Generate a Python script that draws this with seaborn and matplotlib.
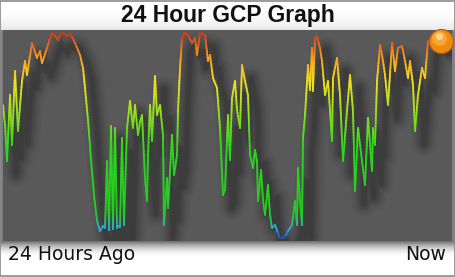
import numpy as np
import pandas as pd
import matplotlib
matplotlib.use("Agg")
import matplotlib.pyplot as plt
import matplotlib.transforms as mtransforms
from matplotlib.collections import LineCollection
from matplotlib.colors import LinearSegmentedColormap
import seaborn as sns

# ---- data (time axis in arbitrary units across 24 h, GCP value 0..210) ----
time_pts = [3, 5, 7, 10, 12, 15, 18, 22, 25, 27, 32, 37, 40, 42, 47, 50, 52, 55, 58, 60,
            63, 67, 70, 72, 75, 78, 80, 83, 85, 88, 91, 94, 97, 100, 103, 105, 107, 109, 111, 113,
            115, 117, 119, 120, 122, 124, 127, 130, 133, 135, 138, 140, 142, 145, 147, 148, 150, 152, 155, 157,
            160, 163, 164, 167, 168, 172, 174, 177, 178, 180, 182, 185, 188, 192, 195, 197, 200, 203, 205, 208,
            210, 213, 217, 220, 223, 225, 228, 230, 232, 235, 237, 240, 242, 245, 248, 250, 253, 255, 257, 258,
            261, 263, 265, 268, 270, 272, 275, 278, 280, 283, 286, 288, 290, 292, 295, 297, 298, 300, 302, 303,
            305, 308, 310, 312, 313, 315, 317, 320, 322, 325, 328, 330, 332, 333, 337, 340, 343, 347, 350, 353,
            355, 358, 362, 365, 368, 372, 373, 375, 377, 380, 383, 385, 388, 392, 395, 398, 402, 405, 408, 410,
            413, 415, 418, 422, 425, 428, 432, 436, 441]
pix_y = [105, 125, 161, 95, 145, 71, 131, 81, 61, 75, 43, 58, 51, 63, 48, 38, 33, 36, 40, 35,
         33, 36, 34, 37, 43, 50, 55, 68, 88, 120, 160, 195, 221, 231, 226, 228, 161, 230, 126, 229,
         128, 228, 226, 227, 138, 225, 128, 101, 128, 105, 135, 122, 115, 178, 201, 155, 105, 141, 76, 115,
         105, 135, 225, 178, 208, 135, 175, 155, 111, 68, 38, 33, 35, 43, 38, 55, 33, 34, 35, 61,
         55, 78, 88, 128, 195, 190, 115, 160, 98, 81, 110, 128, 65, 81, 95, 155, 168, 150, 161, 201,
         170, 200, 215, 185, 215, 228, 225, 233, 238, 238, 235, 231, 228, 225, 201, 225, 168, 200, 225, 138,
         115, 65, 90, 48, 91, 38, 36, 48, 61, 95, 81, 111, 141, 78, 58, 95, 161, 111, 75, 111,
         191, 128, 161, 185, 118, 171, 128, 145, 81, 45, 61, 75, 105, 43, 71, 48, 46, 61, 78, 61,
         85, 131, 95, 68, 78, 41, 38, 37, 41]
gcp_value = [241 - p for p in pix_y]

title = "24 Hour GCP Graph"
left_label = "24 Hours Ago"
right_label = "Now"

df = pd.DataFrame({"t": time_pts, "v": gcp_value})

W, H, DPI = 456, 277, 100
fig = plt.figure(figsize=(W / DPI, H / DPI), dpi=DPI)
fig.patch.set_facecolor("white")

# background axes for gradients
bg = fig.add_axes([0, 0, 1, 1])
bg.set_xlim(0, W)
bg.set_ylim(H, 0)
bg.axis("off")
grad = np.ones((H, 1, 3))
top_plot, bot_plot = 30, 241
for r in range(H):
    if r < top_plot:
        g = 1.0 - 0.10 * (r / top_plot) ** 3
    elif r >= bot_plot:
        d = (r - bot_plot) / 16.0
        g = 1.0 - 0.55 * max(0.0, 1 - d) ** 2
    else:
        g = 0.5
    grad[r, 0, :] = g
bg.imshow(grad, extent=[0, W, H, 0], aspect="auto", interpolation="bilinear", zorder=0)
bg.add_patch(plt.Rectangle((0.5, 0.5), W - 1.5, H - 1.5, fill=False, edgecolor="#8a8a8a", lw=1.2, zorder=5))

# main plot axes
ax = fig.add_axes([3 / W, (H - bot_plot) / H, (452 - 3) / W, (bot_plot - top_plot) / H])
ax.set_facecolor("#595959")
ax.set_xlim(3, 452)
ax.set_ylim(0, 211)
ax.set_xticks([])
ax.set_yticks([])
for s in ax.spines.values():
    s.set_visible(False)

# shadow: stacked blurred dark copies offset down-right
shadow_tr = mtransforms.offset_copy(ax.transData, fig=fig, x=9, y=-13, units="dots")
for lw, a in [(18, 0.035), (14, 0.045), (11, 0.055), (8, 0.065), (5, 0.07), (3, 0.07)]:
    sns.lineplot(data=df, x="t", y="v", ax=ax, color="black", lw=lw, alpha=a,
                 estimator=None, sort=False, transform=shadow_tr, solid_joinstyle="round",
                 solid_capstyle="round")

# gradient coloured line
cmap = LinearSegmentedColormap.from_list("gcp", [
    (0.0, "#1a2fd0"), (0.05, "#2aa8e8"), (0.13, "#22cc22"), (0.45, "#2fd61e"),
    (0.62, "#9be020"), (0.76, "#f2e020"), (0.87, "#f5a520"), (0.95, "#ea5a1e"), (1.0, "#d82a12")])
tt = np.asarray(time_pts, float)
vv = np.asarray(gcp_value, float)
segs, cols = [], []
for i in range(len(tt) - 1):
    n = max(1, int(abs(vv[i + 1] - vv[i]) / 3))
    fr = np.linspace(0, 1, n + 1)
    xs = tt[i] + (tt[i + 1] - tt[i]) * fr
    ys = vv[i] + (vv[i + 1] - vv[i]) * fr
    for k in range(n):
        segs.append([(xs[k], ys[k]), (xs[k + 1], ys[k + 1])])
        cols.append(0.5 * (ys[k] + ys[k + 1]) / 210.0)
lc = LineCollection(segs, cmap=cmap, linewidths=1.3, capstyle="round", joinstyle="round")
lc.set_array(np.array(cols))
lc.set_clim(0, 1)
ax.add_collection(lc)

# end ball
ax.scatter([tt[-1]], [vv[-1]], s=300, color="#ee8a12", edgecolor="#b85a08", lw=0.8, zorder=6, clip_on=False)
ax.scatter([tt[-1] - 1.5], [vv[-1] + 3], s=110, color="#ffb24a", alpha=0.7, lw=0, zorder=7, clip_on=False)
ax.scatter([tt[-1] - 2], [vv[-1] + 5], s=28, color="#ffe0a0", alpha=0.8, lw=0, zorder=8, clip_on=False)

# text
fig.text(228 / W, 1 - 15.5 / H, title, ha="center", va="center", fontsize=16.5,
         fontweight="bold", family="Liberation Sans", color="#111111")
fig.text(8 / W, 1 - 254 / H, left_label, ha="left", va="center", fontsize=13.5,
         family="DejaVu Sans", color="#111111")
fig.text(446 / W, 1 - 254 / H, right_label, ha="right", va="center", fontsize=13.5,
         family="DejaVu Sans", color="#111111")

fig.savefig("out.png", dpi=DPI)
